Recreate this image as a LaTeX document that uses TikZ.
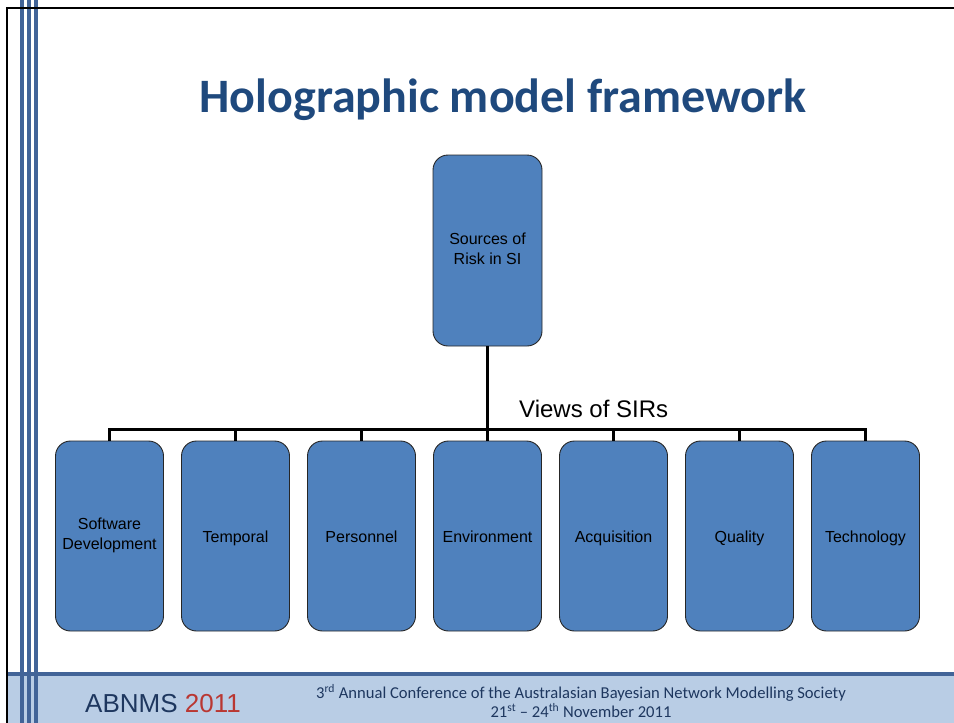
\documentclass[tikz,border=0pt]{standalone}
\usepackage{fontspec}
\setmainfont{Liberation Sans}
\newfontfamily\calibri[Ligatures=TeX]{Carlito}
\usetikzlibrary{positioning}
\definecolor{slideBlue}{RGB}{31, 73, 125}
\definecolor{boxBlue}{RGB}{79, 129, 189}
\definecolor{stripeBlue}{RGB}{66, 100, 152}
\definecolor{footerBlue}{RGB}{185, 205, 229}
\definecolor{footerText}{RGB}{30, 55, 95}
\definecolor{yearRed}{RGB}{185, 55, 50}
\newcommand{\viewstrut}{\rule[-4pt]{0pt}{20pt}}

\begin{document}
\begin{tikzpicture}[
        x=1pt, y=-1pt,
        node distance=18pt,
        view/.style={rectangle, rounded corners=15pt, draw=black!85, line width=0.9pt, outer sep=0pt, fill=boxBlue, minimum width=108pt, minimum height=190pt, align=center, inner sep=2pt, font=\fontsize{16}{20}\selectfont, execute at begin node=\viewstrut, execute at end node=\viewstrut},
        link/.style={black, line width=3pt},
        stripe/.style={stripeBlue, line width=4pt}
    ]
        \useasboundingbox (0,0) rectangle (954,723);

        % Frame and footer
        \fill[footerBlue] (7,676) rectangle (954,723);
        \draw[stripe] (7,674) -- (954,674);
        \draw[stripe] (22,0) -- (22,723);
        \draw[stripe] (29,0) -- (29,723);
        \draw[stripe] (36,0) -- (36,723);
        \draw[black, line width=2.5pt] (7,723) -- (7,8) -- (954,8);

        % Title
        \node[anchor=base, text=slideBlue, font=\calibri\bfseries\fontsize{48}{56}\selectfont] (title) at (503,112) {Holographic model framework};

        % Root
        \node[view, minimum width=109pt, minimum height=191pt] (src) at (487.5,250.5) {Sources of\\Risk in SI};

        % Views
        \node[view] (v1) at (109.5,536) {Software\\Development};
        \node[view, right=of v1] (v2) {Temporal};
        \node[view, right=of v2] (v3) {Personnel};
        \node[view, right=of v3] (v4) {Environment};
        \node[view, right=of v4] (v5) {Acquisition};
        \node[view, right=of v5] (v6) {Quality};
        \node[view, right=of v6] (v7) {Technology};

        % Tree
        \foreach \v in {v1,v2,v3,v4,v5,v6,v7}
            \draw[link] (src.south) -- ++(0,83) -| (\v.north);
        \node[anchor=base west, inner sep=0pt, font=\fontsize{24}{28}\selectfont] (views) at (519,417) {Views of SIRs};

        % Footer text
        \node[anchor=base west, inner sep=0pt, font=\fontsize{26}{30}\selectfont, text=footerText] (conf) at (85,712) {ABNMS \textcolor{yearRed}{2011}};
        \node[align=center, inner sep=0pt, text=footerText, font=\calibri\fontsize{16.6}{19}\selectfont] (event) at (581,701) {3\textsuperscript{rd} Annual Conference of the Australasian Bayesian Network Modelling Society\\21\textsuperscript{st} – 24\textsuperscript{th} November 2011};
    \end{tikzpicture}
\end{document}
